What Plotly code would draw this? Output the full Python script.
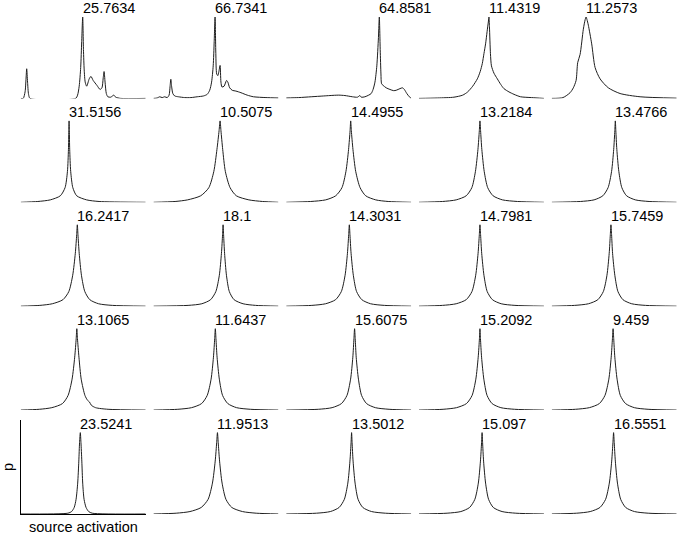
import plotly.graph_objects as go

# ---- data (normalised source activation 0..1, density relative to each panel's peak) ----
KURT = [
    "25.7634", "66.7341", "64.8581", "11.4319", "11.2573",
    "31.5156", "10.5075", "14.4955", "13.2184", "13.4766",
    "16.2417", "18.1", "14.3031", "14.7981", "15.7459",
    "13.1065", "11.6437", "15.6075", "15.2092", "9.459",
    "23.5241", "11.9513", "13.5012", "15.097", "16.5551",
]

LEVELS = [0, 0.01, 0.03, 0.08, 0.18, 0.38, 0.65, 0.88, 1, 0.88, 0.65, 0.38, 0.18, 0.08, 0.03, 0.01, 0]

X01 = [0, 0.02, 0.035, 0.043, 0.048, 0.055, 0.063, 0.075, 0.44, 0.455, 0.468, 0.48, 0.488, 0.496,
       0.502, 0.508, 0.516, 0.528, 0.548, 0.562, 0.58, 0.61, 0.635, 0.65, 0.66, 0.667, 0.675,
       0.685, 0.697, 0.72, 0.745, 0.76, 0.8, 1]
Y01 = [0, 0, 0.08, 0.25, 0.364, 0.2, 0.05, 0.0, 0.0, 0.04, 0.15, 0.38, 0.7, 1.0,
       0.6, 0.35, 0.2, 0.15, 0.24, 0.27, 0.22, 0.16, 0.11, 0.13, 0.25, 0.33, 0.2,
       0.06, 0.02, 0.015, 0.04, 0.015, 0.0, 0]

X02 = [0, 0.03, 0.05, 0.07, 0.09, 0.11, 0.125, 0.133, 0.139, 0.145, 0.155, 0.17, 0.2, 0.25,
       0.3, 0.35, 0.4, 0.43, 0.45, 0.465, 0.478, 0.486, 0.493, 0.499, 0.506, 0.515, 0.527,
       0.533, 0.54, 0.548, 0.565, 0.585, 0.595, 0.61, 0.63, 0.66, 0.7, 0.75, 0.8, 0.9, 1]
Y02 = [0, 0.005, 0.02, 0.01, 0.02, 0.01, 0.04, 0.15, 0.235, 0.15, 0.06, 0.03, 0.02, 0.01,
       0.01, 0.02, 0.03, 0.05, 0.1, 0.2, 0.4, 0.7, 1.0, 0.55, 0.3, 0.28, 0.36,
       0.405, 0.2, 0.14, 0.15, 0.22, 0.2, 0.13, 0.1, 0.09, 0.07, 0.04, 0.02, 0.01, 0.005]

X03 = [0, 0.1, 0.2, 0.3, 0.35, 0.42, 0.47, 0.53, 0.57, 0.59, 0.6, 0.63, 0.66, 0.68, 0.695,
       0.71, 0.725, 0.738, 0.745, 0.752, 0.758, 0.763, 0.775, 0.8, 0.83, 0.86, 0.88, 0.91,
       0.93, 0.945, 0.965, 0.985, 1.0]
Y03 = [0.005, 0.01, 0.02, 0.03, 0.035, 0.04, 0.035, 0.02, 0.015, 0.035, 0.015, 0.02, 0.04, 0.06, 0.11,
       0.2, 0.4, 0.75, 1.0, 0.6, 0.3, 0.18, 0.16, 0.13, 0.11, 0.095, 0.1, 0.12,
       0.13, 0.11, 0.06, 0.02, 0.0]

X04 = [0, 0.15, 0.28, 0.35, 0.39, 0.43, 0.467, 0.49, 0.507, 0.52, 0.533, 0.545, 0.556, 0.56, 0.564,
       0.572, 0.58, 0.6, 0.627, 0.655, 0.68, 0.72, 0.76, 0.813, 0.9, 1]
Y04 = [0, 0.005, 0.015, 0.04, 0.08, 0.15, 0.24, 0.33, 0.43, 0.55, 0.67, 0.82, 0.95, 1.0, 0.88,
       0.55, 0.4, 0.31, 0.24, 0.17, 0.12, 0.08, 0.05, 0.02, 0.01, 0]

X05 = [0, 0.09, 0.147, 0.173, 0.195, 0.208, 0.227, 0.253, 0.268, 0.275, 0.282, 0.293, 0.32, 0.347, 0.387,
       0.453, 0.547, 0.707, 1]
Y05 = [0, 0.01, 0.07, 0.13, 0.22, 0.44, 0.54, 0.85, 0.97, 1.0, 0.97, 0.9, 0.67, 0.38, 0.24,
       0.13, 0.06, 0.02, 0.003]

X06 = [0, 0.137, 0.237, 0.317, 0.355, 0.374, 0.382, 0.385, 0.387, 0.389, 0.392, 0.400, 0.417, 0.448, 0.527, 0.627, 1]
X07 = [0, 0.173, 0.273, 0.378, 0.443, 0.483, 0.508, 0.525, 0.533, 0.540, 0.554, 0.575, 0.613, 0.663, 0.763, 0.873, 1]
X08 = [0, 0.196, 0.316, 0.396, 0.446, 0.478, 0.499, 0.511, 0.516, 0.521, 0.534, 0.556, 0.591, 0.636, 0.716, 0.816, 1]
X09 = [0, 0.188, 0.298, 0.378, 0.423, 0.452, 0.472, 0.483, 0.488, 0.493, 0.503, 0.522, 0.550, 0.593, 0.668, 0.788, 1]
X10 = [0, 0.229, 0.339, 0.409, 0.451, 0.479, 0.496, 0.505, 0.509, 0.513, 0.521, 0.537, 0.561, 0.599, 0.669, 0.779, 1]

X11 = [0, 0.153, 0.253, 0.338, 0.385, 0.416, 0.437, 0.448, 0.453, 0.458, 0.468, 0.486, 0.513, 0.553, 0.623, 0.733, 1]
X12 = [0, 0.277, 0.387, 0.457, 0.499, 0.527, 0.544, 0.553, 0.557, 0.561, 0.569, 0.584, 0.607, 0.645, 0.717, 0.817, 1]
X13 = [0, 0.205, 0.315, 0.395, 0.441, 0.471, 0.490, 0.500, 0.505, 0.510, 0.519, 0.537, 0.563, 0.605, 0.675, 0.785, 1]
X14 = [0, 0.188, 0.298, 0.378, 0.424, 0.454, 0.473, 0.483, 0.488, 0.493, 0.502, 0.520, 0.546, 0.588, 0.658, 0.768, 1]
X15 = [0, 0.184, 0.294, 0.369, 0.413, 0.442, 0.460, 0.469, 0.474, 0.479, 0.487, 0.505, 0.530, 0.570, 0.640, 0.750, 1]

X16 = [0, 0.149, 0.249, 0.334, 0.379, 0.411, 0.432, 0.444, 0.449, 0.454, 0.466, 0.484, 0.514, 0.535, 0.55, 0.565, 0.599, 0.699, 1]
Y16 = [0, 0.01, 0.03, 0.08, 0.18, 0.38, 0.65, 0.88, 1, 0.88, 0.65, 0.38, 0.18, 0.12, 0.1, 0.06, 0.03, 0.01, 0]
X17 = [0, 0.195, 0.305, 0.385, 0.430, 0.461, 0.480, 0.490, 0.495, 0.500, 0.509, 0.527, 0.553, 0.595, 0.665, 0.775, 1]
X18 = [0, 0.257, 0.367, 0.442, 0.486, 0.515, 0.533, 0.542, 0.547, 0.552, 0.560, 0.578, 0.603, 0.643, 0.713, 0.823, 1]
X19 = [0, 0.193, 0.301, 0.380, 0.425, 0.455, 0.474, 0.484, 0.488, 0.492, 0.501, 0.519, 0.545, 0.585, 0.655, 0.765, 1]
X20 = [0, 0.191, 0.301, 0.381, 0.426, 0.457, 0.476, 0.486, 0.491, 0.496, 0.505, 0.523, 0.549, 0.591, 0.661, 0.771, 1]

X21 = [0, 0.377, 0.407, 0.428, 0.443, 0.456, 0.465, 0.471, 0.477, 0.482, 0.489, 0.496, 0.507, 0.523, 0.544, 0.572, 1]
X22 = [0, 0.182, 0.292, 0.382, 0.437, 0.472, 0.494, 0.506, 0.512, 0.518, 0.529, 0.549, 0.580, 0.627, 0.712, 0.822, 1]
X23 = [0, 0.243, 0.353, 0.423, 0.465, 0.493, 0.510, 0.519, 0.523, 0.527, 0.535, 0.551, 0.575, 0.613, 0.683, 0.793, 1]
X24 = [0, 0.225, 0.335, 0.405, 0.447, 0.475, 0.492, 0.501, 0.505, 0.509, 0.517, 0.533, 0.557, 0.595, 0.665, 0.775, 1]
X25 = [0, 0.200, 0.308, 0.386, 0.431, 0.461, 0.480, 0.490, 0.495, 0.500, 0.509, 0.526, 0.552, 0.592, 0.662, 0.772, 1]

PANELS = [
    (X01, Y01), (X02, Y02), (X03, Y03), (X04, Y04), (X05, Y05),
    (X06, LEVELS), (X07, LEVELS), (X08, LEVELS), (X09, LEVELS), (X10, LEVELS),
    (X11, LEVELS), (X12, LEVELS), (X13, LEVELS), (X14, LEVELS), (X15, LEVELS),
    (X16, Y16), (X17, LEVELS), (X18, LEVELS), (X19, LEVELS), (X20, LEVELS),
    (X21, LEVELS), (X22, LEVELS), (X23, LEVELS), (X24, LEVELS), (X25, LEVELS),
]

# ---- layout geometry (pixels) ----
W, H = 680, 535
COL_LEFT0, COL_PITCH, COL_W = 20.7, 132.75, 125.0
ROW_BASE0, ROW_PITCH, ROW_H = 98.4, 103.9, 94.0
YTOP = 1.155
FONT = "Liberation Sans, Arial, Helvetica, sans-serif"
FSIZE = 14.5
LINE_COL = "#1e1e1e"

fig = go.Figure()
layout = dict(
    width=W, height=H,
    margin=dict(l=0, r=0, t=0, b=0),
    paper_bgcolor="white", plot_bgcolor="rgba(0,0,0,0)",
    showlegend=False,
    font=dict(family=FONT, size=FSIZE, color="black"),
)
annotations = []

for i, (xs, ys) in enumerate(PANELS):
    r, c = divmod(i, 5)
    k = i + 1
    xname = "x" if k == 1 else f"x{k}"
    yname = "y" if k == 1 else f"y{k}"
    left = COL_LEFT0 + COL_PITCH * c
    base = ROW_BASE0 + ROW_PITCH * r
    xdom = [left / W, (left + COL_W) / W]
    ydom = [(H - base) / H, (H - base + ROW_H) / H]
    last = (i == 20)
    layout["xaxis" if k == 1 else f"xaxis{k}"] = dict(
        domain=xdom, range=[0, 1], anchor=yname,
        showgrid=False, zeroline=False, showticklabels=False, ticks="",
        showline=last, linecolor="black", linewidth=1, fixedrange=True,
    )
    layout["yaxis" if k == 1 else f"yaxis{k}"] = dict(
        domain=ydom, range=[0, YTOP], anchor=xname,
        showgrid=False, zeroline=False, showticklabels=False, ticks="",
        showline=last, linecolor="black", linewidth=1, fixedrange=True,
    )
    fig.add_trace(go.Scatter(
        x=xs, y=ys, mode="lines", xaxis=xname, yaxis=yname,
        line=dict(color=LINE_COL, width=1, shape="spline", smoothing=0.7),
        hoverinfo="skip",
    ))
    jmax = max(range(len(ys)), key=lambda j: ys[j])
    annotations.append(dict(
        x=xs[jmax], y=ys[jmax], xref=xname, yref=yname,
        text=KURT[i], showarrow=False, xanchor="left", yanchor="bottom",
        xshift=-2, yshift=-1, font=dict(family=FONT, size=FSIZE, color="black"),
    ))

# axis labels of the bottom-left panel
left0 = COL_LEFT0
base4 = ROW_BASE0 + ROW_PITCH * 4
annotations.append(dict(
    x=(left0 + COL_W / 2) / W, y=(H - 527) / H, xref="paper", yref="paper",
    text="source activation", showarrow=False, xanchor="center", yanchor="middle",
    font=dict(family=FONT, size=FSIZE, color="black"),
))
annotations.append(dict(
    x=8 / W, y=(H - (base4 - ROW_H / 2)) / H, xref="paper", yref="paper",
    text="p", showarrow=False, xanchor="center", yanchor="middle", textangle=-90,
    font=dict(family=FONT, size=FSIZE, color="black"),
))

layout["annotations"] = annotations
fig.update_layout(**layout)
fig.write_html(
    "out.html",
    config={"displayModeBar": False, "staticPlot": True},
    post_script="document.body.style.margin='0';document.body.style.overflow='hidden';",
)
